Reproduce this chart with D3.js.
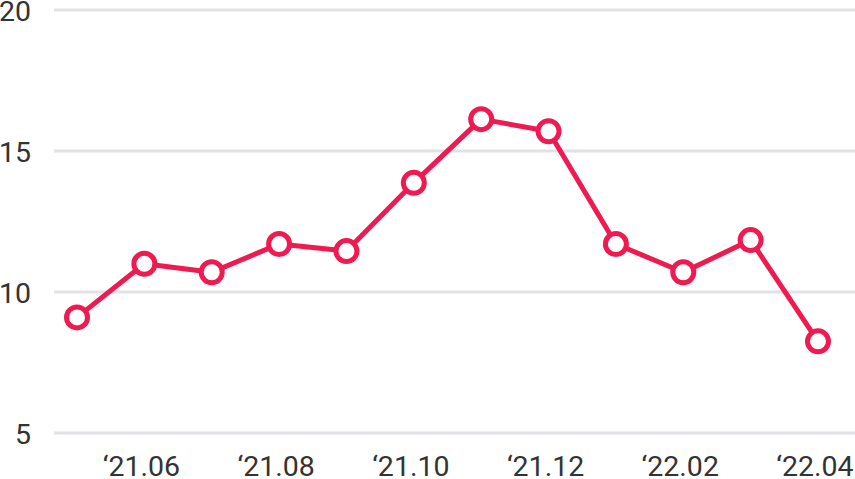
<!DOCTYPE html>
<html>
<head>
<meta charset="utf-8">
<script src="https://cdn.jsdelivr.net/npm/d3@7"></script>
<style>
  body { margin: 0; background: #fff; }
  svg { display: block; font-family: Roboto, sans-serif; }
</style>
</head>
<body>
<svg id="chart"></svg>
<script>
const months = ['21.05', '21.06', '21.07', '21.08', '21.09', '21.10', '21.11', '21.12', '22.01', '22.02', '22.03', '22.04']
const values = [9.1, 11.0, 10.7, 11.7, 11.45, 13.87, 16.13, 15.7, 11.7, 10.7, 11.84, 8.25]
const yTicks = [5, 10, 15, 20]
const xTickLabels = ['21.06', '21.08', '21.10', '21.12', '22.02', '22.04']

const width = 855
const height = 479
const color = '#ee1a50'

const svg = d3.select('#chart').attr('width', width).attr('height', height)

const x = d3.scalePoint().domain(months).range([77, 818])
const y = d3.scaleLinear().domain([5, 20]).range([433, 10])

// gridlines + y labels
const yAxis = svg.append('g')
yAxis.selectAll('line').data(yTicks).enter().append('line')
    .attr('x1', 54).attr('x2', width)
    .attr('y1', (d) => y(d)).attr('y2', (d) => y(d))
    .attr('stroke', '#e1e1e6').attr('stroke-width', 3)
yAxis.selectAll('text').data(yTicks).enter().append('text')
    .attr('x', 31).attr('y', (d) => y(d))
    .attr('dy', '0.37em')
    .attr('text-anchor', 'end')
    .attr('font-size', 28.5)
    .attr('fill', '#333')
    .text((d) => d)

// x labels
svg.append('g').selectAll('text').data(xTickLabels).enter().append('text')
    .attr('x', (d) => x(d) - 3)
    .attr('y', 476)
    .attr('text-anchor', 'middle')
    .attr('font-size', 28.5)
    .attr('fill', '#333')
    .text((d) => '\u2018' + d)

const line = d3.line().x((d, i) => x(months[i])).y((d) => y(d))

svg.append('path').datum(values)
    .attr('d', line)
    .attr('fill', 'none')
    .attr('stroke', color)
    .attr('stroke-width', 5)
    .attr('stroke-linejoin', 'round')

svg.append('g').selectAll('circle').data(values).enter().append('circle')
    .attr('cx', (d, i) => x(months[i]))
    .attr('cy', (d) => y(d))
    .attr('r', 10.5)
    .attr('fill', '#fff')
    .attr('stroke', color)
    .attr('stroke-width', 5)
</script>
</body>
</html>
